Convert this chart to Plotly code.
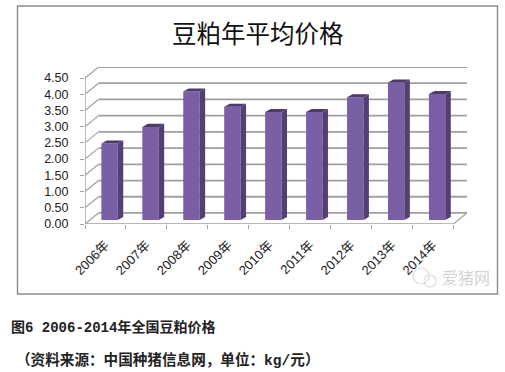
import plotly.graph_objects as go

W, H = 505, 372
years = ["2006年", "2007年", "2008年", "2009年", "2010年", "2011年", "2012年", "2013年", "2014年"]
prices = [2.36, 2.87, 3.96, 3.49, 3.33, 3.33, 3.78, 4.24, 3.88]
y_ticks = [0, 0.5, 1, 1.5, 2, 2.5, 3, 3.5, 4, 4.5]
title_text = "豆粕年平均价格"
caption_1 = "图6 2006-2014年全国豆粕价格"
caption_2 = "（资料来源：中国种猪信息网，单位：kg/元）"
watermark = "爱猪网"

# 3D look, in axis units
BACK_DX, BACK_DY = 0.33, 0.34
BAR_W, BAR_SHIFT, BAR_BASE = 0.40, 0.10, 0.124
SIDE_DX, SIDE_DY = 0.134, 0.093
FRONT, SIDE, TOP = "#7b5fa6", "#533f73", "#4d3a6b"
GRID = "#a0a0a0"

n = len(years)
centres = [i + 0.5 + BAR_SHIFT for i in range(n)]

fig = go.Figure()
fig.add_trace(go.Bar(x=centres, y=prices, base=BAR_BASE, width=BAR_W,
                     marker=dict(color=FRONT, line=dict(width=0)), showlegend=False))

for c, v in zip(centres, prices):
    l, r, t, b = c - BAR_W / 2, c + BAR_W / 2, v + BAR_BASE, BAR_BASE
    fig.add_trace(go.Scatter(x=[r, r + SIDE_DX, r + SIDE_DX, r, r],
                             y=[b, b + SIDE_DY, t + SIDE_DY, t, b],
                             mode="lines", line=dict(width=0), fill="toself",
                             fillcolor=SIDE, showlegend=False, hoverinfo="skip"))
    fig.add_trace(go.Scatter(x=[l, r, r + SIDE_DX, l + SIDE_DX, l],
                             y=[t, t, t + SIDE_DY, t + SIDE_DY, t],
                             mode="lines", line=dict(width=0), fill="toself",
                             fillcolor=TOP, showlegend=False, hoverinfo="skip"))

shapes = []
def seg(x0, y0, x1, y1, w=1.8, color=GRID):
    shapes.append(dict(type="line", xref="x", yref="y", x0=x0, y0=y0, x1=x1, y1=y1,
                       layer="below", line=dict(color=color, width=w)))

# outer frame
shapes.append(dict(type="rect", xref="paper", yref="paper",
                   x0=17.5 / W, x1=497.5 / W, y0=1 - 294 / H, y1=1 - 6 / H,
                   layer="below", line=dict(color="#8c8c8c", width=1.4), fillcolor="white"))
for v in y_ticks:
    seg(BACK_DX, v + BACK_DY, n + BACK_DX, v + BACK_DY)
    seg(0, v, BACK_DX, v + BACK_DY, w=1.2)
seg(n, 0, n + BACK_DX, BACK_DY, w=1.2)
seg(0, 0, n, 0, w=1.4)
seg(0, 0, 0, y_ticks[-1], w=1.4)

# watermark icon
for cx, cy, r in [(421, 276, 8), (430, 281, 6)]:
    shapes.append(dict(type="circle", xref="paper", yref="paper",
                       x0=(cx - r) / W, x1=(cx + r) / W,
                       y0=1 - (cy + r) / H, y1=1 - (cy - r) / H,
                       layer="above", line=dict(color="#dcdcdc", width=1.2)))

CJK = "Noto Sans CJK SC"
CAPTION = "Liberation Mono, " + CJK
annotations = [
    dict(text=title_text, x=258 / W, y=1 - 32 / H, xref="paper", yref="paper", showarrow=False,
         xanchor="center", yanchor="middle", font=dict(family=CJK, size=24.5, color="#111111")),
    dict(text="<b>" + caption_1 + "</b>", x=9 / W, y=1 - 327 / H, xref="paper", yref="paper", showarrow=False,
         xanchor="left", yanchor="middle", font=dict(family=CAPTION, size=14, color="#222222")),
    dict(text="<b>" + caption_2 + "</b>", x=14 / W, y=1 - 360 / H, xref="paper", yref="paper", showarrow=False,
         xanchor="left", yanchor="middle", font=dict(family=CAPTION, size=14.6, color="#222222")),
    dict(text=watermark, x=466 / W, y=1 - 277 / H, xref="paper", yref="paper", showarrow=False,
         xanchor="center", yanchor="middle", font=dict(family=CJK, size=16, color="#d4d4d4")),
]

fig.update_layout(
    width=W, height=H, margin=dict(l=0, r=0, t=0, b=0, pad=0), autosize=False,
    paper_bgcolor="white", plot_bgcolor="rgba(0,0,0,0)", showlegend=False,
    shapes=shapes, annotations=annotations,
    font=dict(family="Liberation Sans, " + CJK, color="#222222"),
    xaxis=dict(domain=[85 / W, 467 / W], range=[0, n + BACK_DX], showgrid=False, zeroline=False,
               showline=False, automargin=False, tickmode="array",
               tickvals=[i + 0.5 for i in range(n)], ticktext=years, ticks="", tickangle=-45,
               tickfont=dict(size=13, family="Liberation Sans, " + CJK, color="#222222"),
               ticklabelstandoff=10,
               minor=dict(tickmode="array", tickvals=list(range(n + 1)), ticks="outside",
                          ticklen=4, tickcolor=GRID, tickwidth=1.2, showgrid=False)),
    yaxis=dict(domain=[1 - 224 / H, 1 - 67 / H], range=[0, y_ticks[-1] + BACK_DY], showgrid=False,
               zeroline=False, showline=False, automargin=False, tickmode="array", tickvals=y_ticks,
               ticktext=[f"{v:.2f}" for v in y_ticks], ticks="outside", ticklen=4,
               tickcolor=GRID, tickwidth=1.2, ticklabelstandoff=9,
               tickfont=dict(size=12.5, family="Liberation Sans", color="#222222")),
)

fig.write_html("out.html", config={"displayModeBar": False},
               post_script="document.body.style.margin='0';document.body.style.overflow='hidden';")
